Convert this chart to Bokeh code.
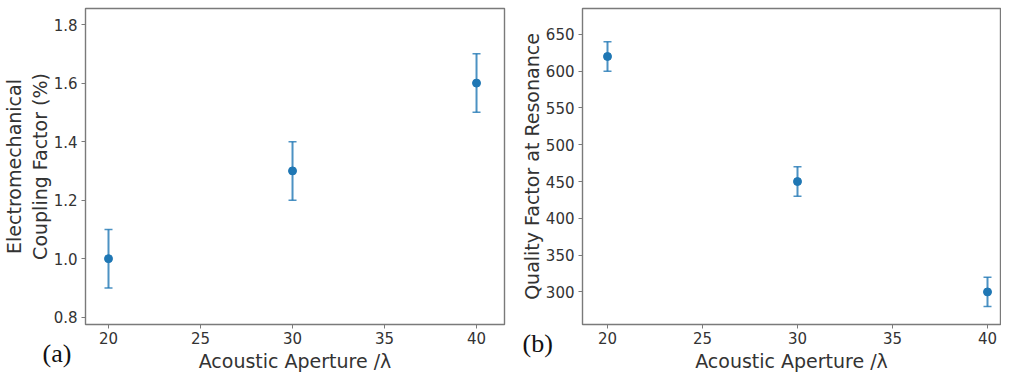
from bokeh.plotting import figure
from bokeh.layouts import row, column
from bokeh.models import (ColumnDataSource, Whisker, TeeHead, FixedTicker,
                          NumeralTickFormatter, Range1d)
from bokeh.core.properties import value
from bokeh.embed import file_html
from bokeh.resources import INLINE

# ---- data ----
aperture = [20, 30, 40]
coupling = [1.0, 1.3, 1.6]
coupling_err = [0.1, 0.1, 0.1]
quality = [620, 450, 300]
quality_err = [20, 20, 20]
x_ticks = [20, 25, 30, 35, 40]
coupling_ticks = [0.8, 1.0, 1.2, 1.4, 1.6, 1.8]
quality_ticks = [300, 350, 400, 450, 500, 550, 600, 650]
x_label = "Acoustic Aperture /λ"
coupling_label = "Electromechanical\nCoupling Factor (%)"
quality_label = "Quality Factor at Resonance"
panel_tags = ["(a)", "(b)"]

BLUE = "#1f77b4"
TXT = "#333333"
FRAME = "#7a7a7a"
FONT = "DejaVu Sans"


def style(p):
    p.outline_line_color = FRAME
    p.outline_line_width = 1.4
    p.grid.visible = False
    p.background_fill_color = "white"
    p.border_fill_color = "white"
    for ax in (p.xaxis[0], p.yaxis[0]):
        ax.axis_line_color = None
        ax.major_tick_line_color = FRAME
        ax.major_tick_out = 4
        ax.major_tick_in = 0
        ax.minor_tick_line_color = None
        ax.major_label_text_font = FONT
        ax.major_label_text_font_size = "15px"
        ax.major_label_text_color = TXT
        ax.axis_label_text_font = FONT
        ax.axis_label_text_font_size = "19px"
        ax.axis_label_text_font_style = "normal"
        ax.axis_label_text_color = TXT
    xa, ya = p.xaxis[0], p.yaxis[0]
    xa.major_label_text_line_height = 1.0
    xa.axis_label_text_line_height = 1.0
    xa.major_label_standoff = 3
    xa.axis_label_standoff = 3
    ya.axis_label_text_line_height = 1.15
    ya.major_label_standoff = 4
    ya.axis_label_standoff = 0


def panel(x, y, err, yticks, ylab, xr, yr, fw, fh, borders, fmt):
    p = figure(frame_width=fw, frame_height=fh, output_backend="svg", toolbar_location=None,
               x_range=Range1d(*xr), y_range=Range1d(*yr),
               min_border_left=borders[0], min_border_right=borders[1],
               min_border_top=borders[2], min_border_bottom=borders[3])
    style(p)
    p.xaxis.ticker = FixedTicker(ticks=x_ticks)
    p.yaxis.ticker = FixedTicker(ticks=yticks)
    p.yaxis.formatter = NumeralTickFormatter(format=fmt)
    p.xaxis.axis_label = x_label
    p.yaxis.axis_label = ylab
    src = ColumnDataSource(dict(x=x, y=y,
                                lo=[a - b for a, b in zip(y, err)],
                                hi=[a + b for a, b in zip(y, err)]))
    wk = Whisker(source=src, base="x", lower="lo", upper="hi", dimension="height",
                 line_color=BLUE, line_alpha=0.8, line_width=2,
                 upper_head=TeeHead(size=8, line_color=BLUE, line_alpha=0.8, line_width=1.5),
                 lower_head=TeeHead(size=8, line_color=BLUE, line_alpha=0.8, line_width=1.5))
    p.add_layout(wk)
    p.scatter("x", "y", source=src, size=8, color=BLUE)
    return p


FH = 316
pa = panel(aperture, coupling, coupling_err, coupling_ticks, coupling_label,
           (18.75, 41.52), (0.775, 1.855), 419, FH, (78, 13, 8, 50), "0.0")
pb = panel(aperture, quality, quality_err, quality_ticks, quality_label,
           (18.684, 40.684), (255.7, 685.2), 418, FH, (65, 1, 8, 50), "0")

# transparent strip laid over the bottom of the two panels, carrying the (a)/(b) tags
STRIP_W, STRIP_H = 994, 50
tag_x = [42, 522]
tag_y = [21, 31]
strip = figure(width=STRIP_W, height=STRIP_H, output_backend="svg", toolbar_location=None,
               x_range=Range1d(0, STRIP_W), y_range=Range1d(0, STRIP_H),
               min_border=0, x_axis_type=None, y_axis_type=None,
               margin=(-STRIP_H, 0, 0, 0))
strip.grid.visible = False
strip.outline_line_color = None
strip.background_fill_color = None
strip.border_fill_color = None
strip.text(x=tag_x, y=tag_y, text=panel_tags, text_font=value("Liberation Serif"),
           text_font_size="26px", text_color="#111111",
           text_baseline="middle", text_align="left")

layout = column(row(pa, pb), strip, margin=(0, 0, -12, 0))
open("out.html", "w").write(file_html(layout, INLINE))
